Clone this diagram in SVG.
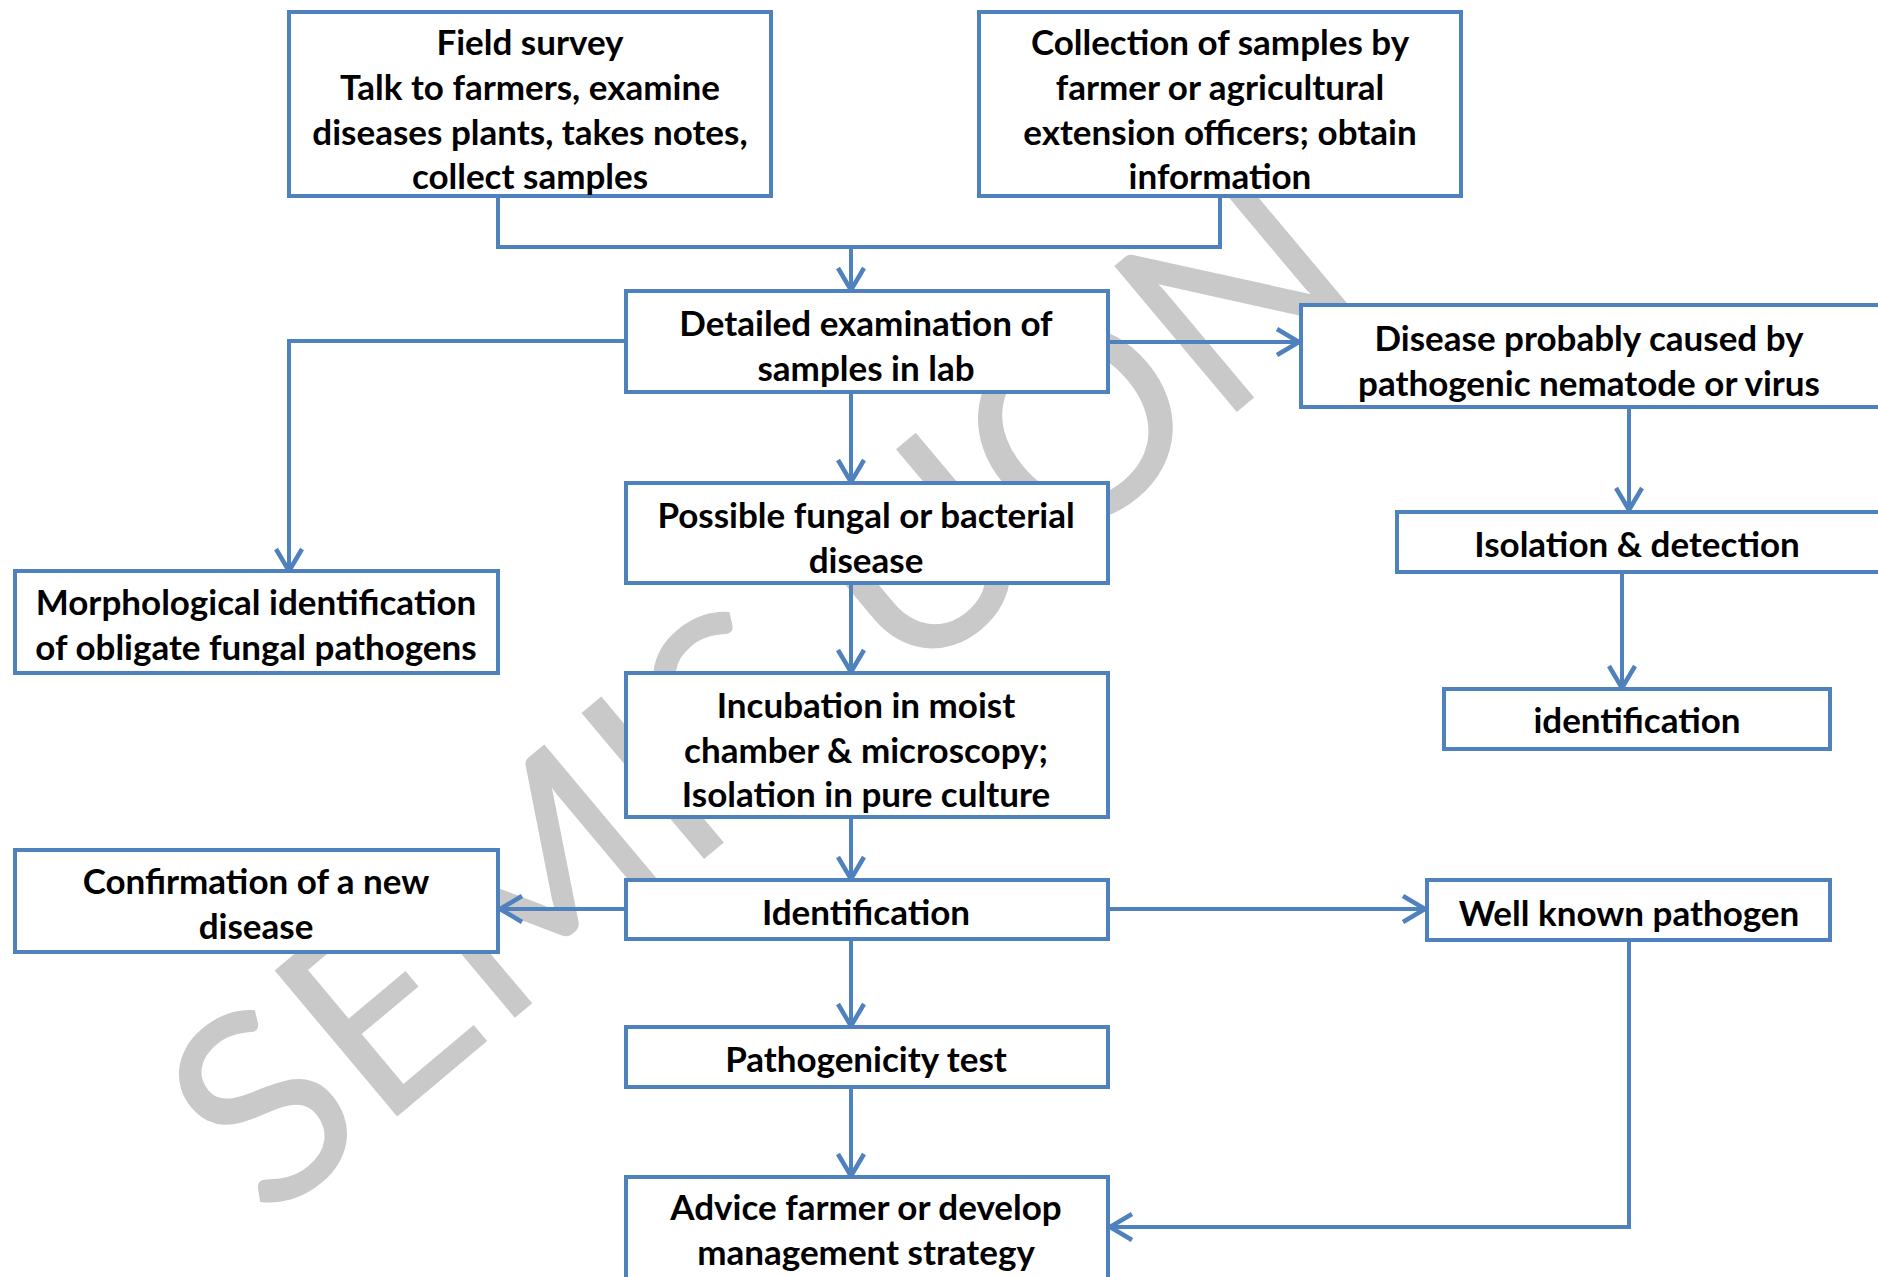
<svg xmlns="http://www.w3.org/2000/svg" width="1878" height="1277" viewBox="0 0 1878 1277">
<style>
.box{fill:#ffffff;stroke:#4f81bd;stroke-width:4}
.lbl{font-family:Lato,"Liberation Sans",sans-serif;font-weight:bold;font-size:35px;fill:#000;text-anchor:middle}
.con{fill:none;stroke:#4f81bd;stroke-width:4}
.wm{font-family:Lato,"Liberation Sans",sans-serif;font-weight:normal;font-size:266px;fill:#c9c9c9}
</style>
<defs>
<marker id="ah" markerUnits="userSpaceOnUse" markerWidth="30" markerHeight="32" refX="24" refY="16" orient="auto" viewBox="0 0 30 32">
<path d="M2,3 L24,16 L2,29" fill="none" stroke="#4f81bd" stroke-width="4.5"/>
</marker>
</defs>
<rect width="1878" height="1277" fill="#ffffff"/>
<text class="wm" transform="translate(268,1225) rotate(-40)">SEMIS UON</text>
<g id="connectors">
<path class="con" d="M498,196 V247 H1220 V196"/>
<path class="con" d="M851,247 V290" marker-end="url(#ah)"/>
<path class="con" d="M851,392 V482" marker-end="url(#ah)"/>
<path class="con" d="M625,341 H289 V571" marker-end="url(#ah)"/>
<path class="con" d="M1107,342 H1299" marker-end="url(#ah)"/>
<path class="con" d="M1629,407 V510" marker-end="url(#ah)"/>
<path class="con" d="M1622,572 V688" marker-end="url(#ah)"/>
<path class="con" d="M851,583 V672" marker-end="url(#ah)"/>
<path class="con" d="M851,808 V879" marker-end="url(#ah)"/>
<path class="con" d="M625,909 H500" marker-end="url(#ah)"/>
<path class="con" d="M1108,909 H1425" marker-end="url(#ah)"/>
<path class="con" d="M851,939 V1026" marker-end="url(#ah)"/>
<path class="con" d="M851,1087 V1176" marker-end="url(#ah)"/>
<path class="con" d="M1629,941 V1227 H1110" marker-end="url(#ah)"/>
</g>
<g id="n1"><rect class="box" x="289" y="12" width="482" height="184"/>
<text class="lbl"><tspan x="530" y="55">Field survey</tspan><tspan x="530" y="100">Talk to farmers, examine</tspan><tspan x="530" y="145">diseases plants, takes notes,</tspan><tspan x="530" y="189">collect samples</tspan></text></g>
<g id="n2"><rect class="box" x="979" y="12" width="482" height="184"/>
<text class="lbl"><tspan x="1220" y="55">Collection of samples by</tspan><tspan x="1220" y="100">farmer or agricultural</tspan><tspan x="1220" y="145">extension officers; obtain</tspan><tspan x="1220" y="189">information</tspan></text></g>
<g id="n3"><rect class="box" x="626" y="291" width="482" height="101"/>
<text class="lbl"><tspan x="866" y="336">Detailed examination of</tspan><tspan x="866" y="381">samples in lab</tspan></text></g>
<g id="n4"><rect class="box" x="1301" y="305" width="580" height="102"/>
<text class="lbl"><tspan x="1589" y="351">Disease probably caused by</tspan><tspan x="1589" y="396">pathogenic nematode or virus</tspan></text></g>
<g id="n5"><rect class="box" x="626" y="483" width="482" height="100"/>
<text class="lbl"><tspan x="866" y="528">Possible fungal or bacterial</tspan><tspan x="866" y="573">disease</tspan></text></g>
<g id="n6"><rect class="box" x="1397" y="512" width="484" height="60"/>
<text class="lbl" x="1637" y="557">Isolation &amp; detection</text></g>
<g id="n7"><rect class="box" x="1444" y="689" width="386" height="60"/>
<text class="lbl" x="1637" y="733">identification</text></g>
<g id="n8"><rect class="box" x="15" y="571" width="483" height="102"/>
<text class="lbl"><tspan x="256" y="615">Morphological identification</tspan><tspan x="256" y="660">of obligate fungal pathogens</tspan></text></g>
<g id="n9"><rect class="box" x="626" y="673" width="482" height="144"/>
<text class="lbl"><tspan x="866" y="718">Incubation in moist</tspan><tspan x="866" y="763">chamber &amp; microscopy;</tspan><tspan x="866" y="807">Isolation in pure culture</tspan></text></g>
<g id="n10"><rect class="box" x="626" y="880" width="482" height="59"/>
<text class="lbl" x="866" y="925">Identification</text></g>
<g id="n11"><rect class="box" x="15" y="850" width="483" height="102"/>
<text class="lbl"><tspan x="256" y="894">Confirmation of a new</tspan><tspan x="256" y="939">disease</tspan></text></g>
<g id="n12"><rect class="box" x="1427" y="880" width="403" height="60"/>
<text class="lbl" x="1629" y="926">Well known pathogen</text></g>
<g id="n13"><rect class="box" x="626" y="1027" width="482" height="60"/>
<text class="lbl" x="866" y="1072">Pathogenicity test</text></g>
<g id="n14"><rect class="box" x="626" y="1177" width="482" height="120"/>
<text class="lbl"><tspan x="866" y="1220">Advice farmer or develop</tspan><tspan x="866" y="1265">management strategy</tspan></text></g>
</svg>
